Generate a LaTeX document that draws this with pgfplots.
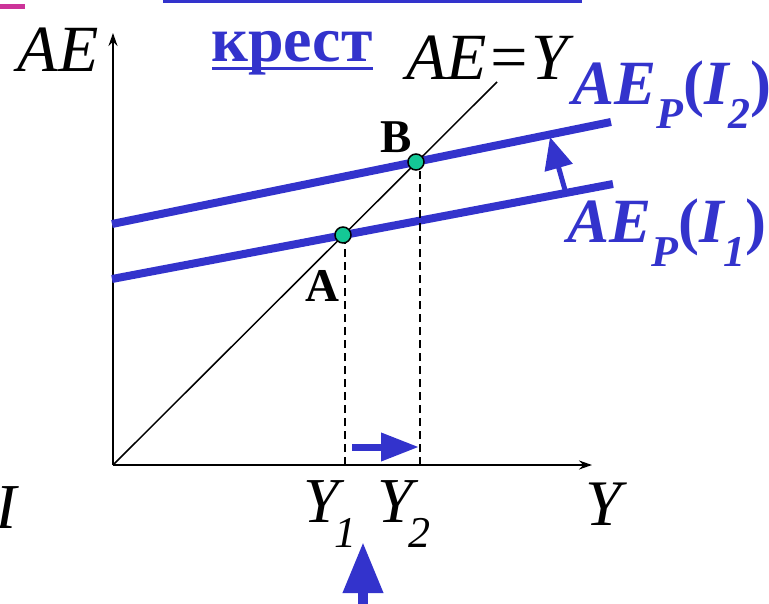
\documentclass[border=0pt]{standalone}
\usepackage{fontspec}
\setmainfont{Liberation Serif}
\usepackage{pgfplots}
\pgfplotsset{compat=1.18}
\usetikzlibrary{arrows.meta}
\definecolor{kblue}{RGB}{51,51,204}
\definecolor{kgreen}{RGB}{20,200,150}
\definecolor{kpink}{RGB}{204,51,153}
\newcommand{\fs}[1]{\fontsize{#1}{#1}\selectfont}
\begin{document}
\begin{tikzpicture}
\begin{axis}[
 x=1pt, y=1pt,
 xmin=0,xmax=479,ymin=0,ymax=432,
 axis lines=left,
 axis line style={line width=2pt,-{Stealth[length=13pt,width=9pt]}},
 xtick=\empty, ytick=\empty,
 clip=false,
 enlargelimits=false,
]
\coordinate (bl) at (axis cs:-113,-138);
\coordinate (tr) at (axis cs:656,465);
% AE_P lines
\addplot[kblue, line width=8pt] coordinates {(-1,186) (500,281)};
\addplot[kblue, line width=8pt] coordinates {(-1,241) (498,343)};
% 45 degree line
\addplot[black, line width=1.5pt] coordinates {(0,0) (384,383)};
% dashed drops
\addplot[black, line width=1.8pt, dash pattern=on 8pt off 5pt] coordinates {(232,0) (232,230)};
\addplot[black, line width=1.8pt, dash pattern=on 8pt off 5pt] coordinates {(307,0) (307,303)};
% equilibrium points
\addplot[only marks, mark=*, mark size=8pt, mark options={fill=kgreen, draw=black, line width=1.5pt}] coordinates {(230,230) (303,303)};
% arrows
\draw[kblue, line width=7pt, -{Triangle[length=38pt,width=27pt]}] (axis cs:239,18) -- (axis cs:306,18);
\draw[kblue, line width=5pt, -{Triangle[length=32pt,width=28pt]}] (axis cs:452,275) -- (axis cs:437,328);
\draw[kblue, line width=10pt, -{Triangle[length=51pt,width=38pt]}] (axis cs:250,-150) -- (axis cs:250,-77);
% decorations at top
\draw[kblue, line width=7pt] (axis cs:50,465) -- (axis cs:469,465);
\fill[kpink] (axis cs:-113,456) rectangle (axis cs:-88,461);
% texts
\node[anchor=base, inner sep=0] at (axis cs:-55,393) {\fs{66}\itshape AE};
\node[anchor=base, inner sep=0] at (axis cs:374,385) {\fs{66}\itshape AE=Y};
\node[anchor=base, inner sep=0, text=kblue] at (axis cs:179,403) {\fs{64}\bfseries крест};
\draw[kblue, line width=3pt] (axis cs:99,396.5) -- (axis cs:260,396.5);
\node[anchor=base, inner sep=0] at (axis cs:209,164) {\fs{47}\bfseries A};
\node[anchor=base, inner sep=0] at (axis cs:283,313) {\fs{47}\bfseries B};
\node[anchor=base west, inner sep=0, text=kblue] at (axis cs:459,360) {\fs{63}\bfseries\itshape AE\raisebox{-24pt}{\fs{44}P}\upshape(\itshape I\raisebox{-24pt}{\fs{44}2}\upshape)};
\node[anchor=base west, inner sep=0, text=kblue] at (axis cs:454,223) {\fs{63}\bfseries\itshape AE\raisebox{-24pt}{\fs{44}P}\upshape(\itshape I\raisebox{-24pt}{\fs{44}1}\upshape)};
\node[anchor=base, inner sep=0] at (axis cs:491,-60) {\fs{65}\itshape Y};
\node[anchor=base west, inner sep=0] at (axis cs:190,-57) {\fs{64}\itshape Y\kern-4pt\raisebox{-25pt}{\fs{44}1}};
\node[anchor=base west, inner sep=0] at (axis cs:264,-57) {\fs{64}\itshape Y\kern-4pt\raisebox{-25pt}{\fs{44}2}};
\node[anchor=base east, inner sep=0] at (axis cs:-96,-63) {\fs{64}\itshape I};
\end{axis}
\pgfresetboundingbox
\path[use as bounding box] (bl) rectangle (tr);
\end{tikzpicture}
\end{document}
